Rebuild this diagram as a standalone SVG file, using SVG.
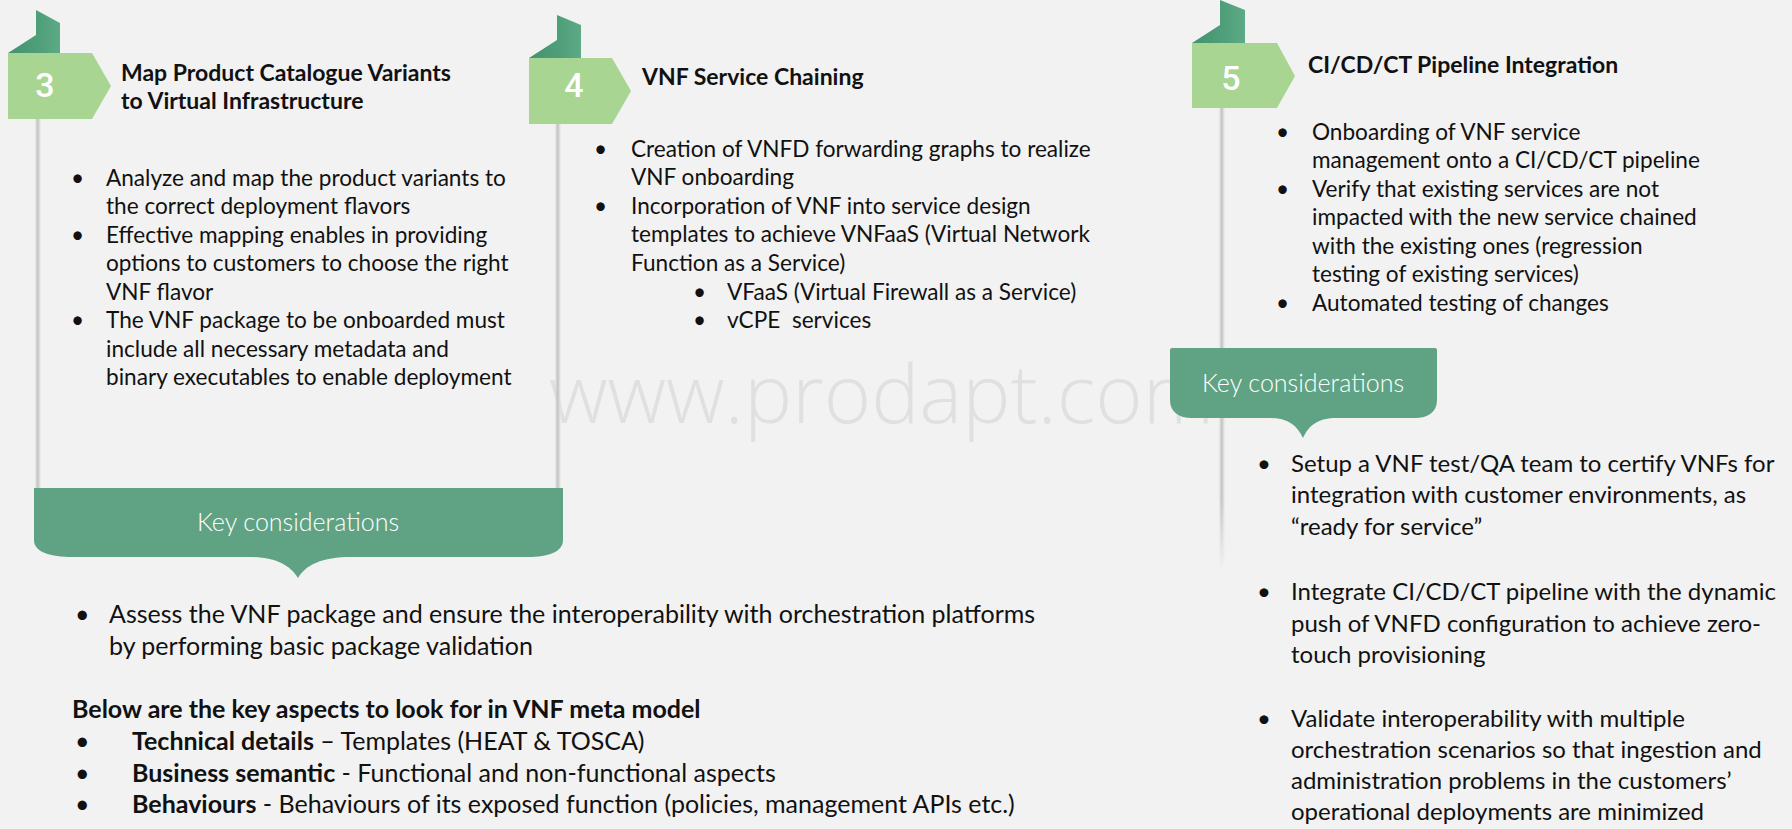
<svg xmlns="http://www.w3.org/2000/svg" width="1792" height="829" viewBox="0 0 1792 829">
<defs>
<style>
.bg{fill:#f2f2f2}
.wm{font-family:"Open Sans","Noto Sans",sans-serif;font-weight:300;font-size:81px;fill:#e0e0e0}
.box{fill:#a8d591}
.rib{fill:url(#ribg)}
.num{font-family:Roboto,"Open Sans",sans-serif;font-weight:500;font-size:34px;fill:#ffffff;text-anchor:middle}
.title{font-family:Lato,"Liberation Sans",sans-serif;font-weight:700;font-size:23px;fill:#111111}
.body{font-family:Lato,"Liberation Sans",sans-serif;font-size:22.6px;fill:#111111}
.big{font-family:Lato,"Liberation Sans",sans-serif;font-size:24px;fill:#111111}
.mid{font-family:Lato,"Liberation Sans",sans-serif;font-size:25px;fill:#111111}
.b{font-weight:700}
.banner{fill:#60a384}
.kc{font-family:Lato,"Liberation Sans",sans-serif;font-weight:300;font-size:25px;fill:#ffffff;text-anchor:middle}
.pole{fill:url(#poleg)}
</style>
<linearGradient id="ribg" x1="0" y1="0" x2="1" y2="0">
<stop offset="0" stop-color="#43936f"/>
<stop offset="0.6" stop-color="#4f9f7a"/>
<stop offset="1" stop-color="#5daa86"/>
</linearGradient>
<linearGradient id="poleg" x1="0" y1="0" x2="1" y2="0">
<stop offset="0" stop-color="#d8d8d8" stop-opacity="0.3"/>
<stop offset="0.35" stop-color="#c4c4c4"/>
<stop offset="0.6" stop-color="#d6d6d6"/>
<stop offset="1" stop-color="#f2f2f2" stop-opacity="0"/>
</linearGradient>
<linearGradient id="fade" x1="0" y1="0" x2="0" y2="1">
<stop offset="0" stop-color="#ffffff"/>
<stop offset="0.85" stop-color="#ffffff"/>
<stop offset="1" stop-color="#ffffff" stop-opacity="0"/>
</linearGradient>
<mask id="polefade" maskContentUnits="userSpaceOnUse">
<rect x="1200" y="100" width="50" height="470" fill="url(#fade)"/>
</mask>
</defs>
<rect class="bg" x="0" y="0" width="1792" height="829"/>
<text class="wm" x="549" y="423">www.prodapt.com</text>
<g id="connectors"></g>

<g id="step3">
<rect class="pole" x="35" y="119" width="7" height="369"/>
<polygon class="rib" points="36,10 60,23 60,53 8,53 36,35"/>
<polygon class="box" points="8,53 92,53 111,86 92,119 8,119"/>
<text class="num" x="45" y="97">3</text>
<text class="title" x="121" y="81">Map Product Catalogue Variants</text>
<text class="title" x="121" y="109">to Virtual Infrastructure</text>
<g class="body">
<text x="71" y="186">•</text><text x="106" y="186">Analyze and map the product variants to</text>
<text x="106" y="214">the correct deployment flavors</text>
<text x="71" y="243">•</text><text x="106" y="243">Effective mapping enables in providing</text>
<text x="106" y="271">options to customers to choose the right</text>
<text x="106" y="300">VNF flavor</text>
<text x="71" y="328">•</text><text x="106" y="328">The VNF package to be onboarded must</text>
<text x="106" y="357">include all necessary metadata and</text>
<text x="106" y="385">binary executables to enable deployment</text>
</g>
</g>

<g id="step4">
<rect class="pole" x="555" y="124" width="7" height="364"/>
<polygon class="rib" points="557,15 581,25 581,58 529,58 557,40"/>
<polygon class="box" points="529,58 612,58 631,91 612,124 529,124"/>
<text class="num" x="574" y="97">4</text>
<text class="title" x="642" y="85">VNF Service Chaining</text>
<g class="body">
<text x="594" y="157">•</text><text x="631" y="157">Creation of VNFD forwarding graphs to realize</text>
<text x="631" y="185">VNF onboarding</text>
<text x="594" y="214">•</text><text x="631" y="214">Incorporation of VNF into service design</text>
<text x="631" y="242">templates to achieve VNFaaS (Virtual Network</text>
<text x="631" y="271">Function as a Service)</text>
<text x="693" y="300">•</text><text x="727" y="300">VFaaS (Virtual Firewall as a Service)</text>
<text x="693" y="328">•</text><text x="727" y="328" xml:space="preserve">vCPE  services</text>
</g>
</g>

<g id="step5">
<rect class="pole" x="1219" y="108" width="7" height="459" mask="url(#polefade)"/>
<polygon class="rib" points="1220,0 1245,10 1245,43 1192,43 1220,25"/>
<polygon class="box" points="1192,43 1277,43 1295,76 1277,108 1192,108"/>
<text class="num" x="1231" y="90">5</text>
<text class="title" x="1308" y="73">CI/CD/CT Pipeline Integration</text>
<g class="body">
<text x="1276" y="140">•</text><text x="1312" y="140">Onboarding of VNF service</text>
<text x="1312" y="168">management onto a CI/CD/CT pipeline</text>
<text x="1276" y="197">•</text><text x="1312" y="197">Verify that existing services are not</text>
<text x="1312" y="225">impacted with the new service chained</text>
<text x="1312" y="254">with the existing ones (regression</text>
<text x="1312" y="282">testing of existing services)</text>
<text x="1276" y="311">•</text><text x="1312" y="311">Automated testing of changes</text>
</g>
</g>

<g id="key3">
<path class="banner" d="M34,488 H563 V540 C563,552 548,557 528,557 H352 C321,557 306,565 298,578 C290,565 275,557 249,557 H73 C50,557 34,552 34,540 Z"/>
<text class="kc" x="298" y="531">Key considerations</text>
</g>

<g id="key5">
<path class="banner" d="M1170,350 Q1170,348 1172,348 H1435 Q1437,348 1437,350 V400 C1437,412 1428,418 1415,418 H1337 C1318,418 1309,425 1303,438 C1297,425 1288,418 1270,418 H1192 C1179,418 1170,412 1170,400 Z"/>
<text class="kc" x="1303" y="392">Key considerations</text>
</g>

<g id="notes3" class="mid">
<text x="75" y="623">•</text><text x="109" y="623">Assess the VNF package and ensure the interoperability with orchestration platforms</text>
<text x="109" y="655">by performing basic package validation</text>
<text class="b" x="72" y="718">Below are the key aspects to look for in VNF meta model</text>
<text x="75" y="750">•</text><text x="132" y="750"><tspan class="b">Technical details</tspan> – Templates (HEAT &amp; TOSCA)</text>
<text x="75" y="782">•</text><text x="132" y="782"><tspan class="b">Business semantic</tspan> - Functional and non-functional aspects</text>
<text x="75" y="813">•</text><text x="132" y="813"><tspan class="b">Behaviours</tspan> - Behaviours of its exposed function (policies, management APIs etc.)</text>
</g>

<g id="notes5" class="big">
<text x="1257" y="472">•</text><text x="1291" y="472">Setup a VNF test/QA team to certify VNFs for</text>
<text x="1291" y="503">integration with customer environments, as</text>
<text x="1291" y="535">“ready for service”</text>
<text x="1257" y="600">•</text><text x="1291" y="600">Integrate CI/CD/CT pipeline with the dynamic</text>
<text x="1291" y="632">push of VNFD configuration to achieve zero-</text>
<text x="1291" y="663">touch provisioning</text>
<text x="1257" y="727">•</text><text x="1291" y="727">Validate interoperability with multiple</text>
<text x="1291" y="758">orchestration scenarios so that ingestion and</text>
<text x="1291" y="789">administration problems in the customers’</text>
<text x="1291" y="820">operational deployments are minimized</text>
</g>
</svg>
